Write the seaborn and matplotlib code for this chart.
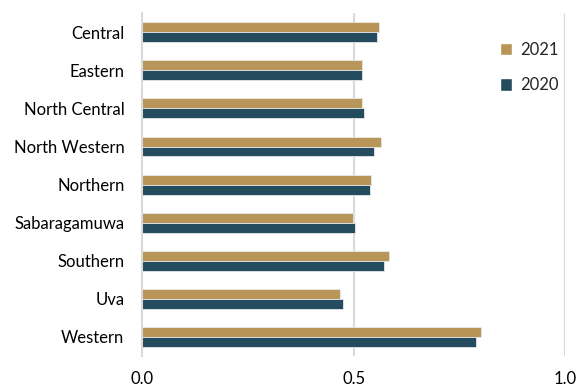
import matplotlib
matplotlib.use("Agg")
import matplotlib.pyplot as plt
import seaborn as sns
import pandas as pd
from matplotlib.patches import Patch

regions = ["Central", "Eastern", "North Central", "North Western", "Northern",
           "Sabaragamuwa", "Southern", "Uva", "Western"]
values_2021 = [0.559, 0.519, 0.521, 0.564, 0.541, 0.499, 0.583, 0.468, 0.802]
values_2020 = [0.556, 0.519, 0.525, 0.549, 0.539, 0.503, 0.571, 0.476, 0.790]
years = ["2021", "2020"]
colors = {"2021": "#B8965A", "2020": "#244B5E"}

df = pd.DataFrame({
    "region": regions * 2,
    "value": values_2021 + values_2020,
    "year": ["2021"] * len(regions) + ["2020"] * len(regions),
})

sns.set_theme(style="white")
plt.rcParams["font.family"] = ["Lato", "DejaVu Sans"]

fig = plt.figure(figsize=(5.78, 3.87), dpi=100)
ax = fig.add_axes([0.2465, 0.080, 0.7305, 0.886])

sns.barplot(data=df, y="region", x="value", hue="year", hue_order=years,
            order=regions, palette=colors, orient="h", width=0.52, gap=0,
            saturation=1, edgecolor="#E8E8E8", linewidth=0.6, ax=ax,
            legend=False)

ax.set_xlim(0, 1.0)
ax.set_ylim(8.5, -0.5)
ax.set_xticks([0.0, 0.5, 1.0])
ax.set_xticklabels(["0.0", "0.5", "1.0"])
for x in [0.5, 1.0]:
    ax.axvline(x, color="#D9D9D9", lw=1.5, zorder=0)
for s in ["top", "right", "bottom"]:
    ax.spines[s].set_visible(False)
ax.spines["left"].set_color("#D9D9D9")
ax.spines["left"].set_linewidth(1.5)
ax.set_xlabel("")
ax.set_ylabel("")
ax.tick_params(axis="x", length=0, pad=11, labelsize=12, colors="black")
ax.tick_params(axis="y", length=0, pad=13, labelsize=12, colors="black")

handles = [Patch(facecolor=colors[y], label=y) for y in years]
ax.legend(handles=handles, loc="upper left", bbox_to_anchor=(0.83, 0.935),
          frameon=False, fontsize=12, handlelength=0.75, handleheight=0.75,
          labelspacing=1.15, handletextpad=0.5, borderaxespad=0)

fig.savefig("out.png", dpi=100)
